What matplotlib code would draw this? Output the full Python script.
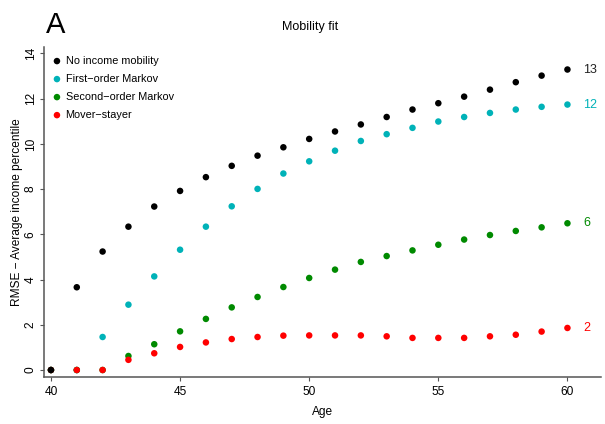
import numpy as np
import matplotlib.pyplot as plt

plt.rcParams['font.family'] = ['Liberation Sans', 'DejaVu Sans']

# RMSE by age for each mobility model
ages = np.arange(40, 61)
no_mobility = [0.00, 3.66, 5.24, 6.34, 7.23, 7.92, 8.53, 9.03, 9.48, 9.85,
               10.22, 10.55, 10.86, 11.19, 11.52, 11.80, 12.09, 12.40, 12.73,
               13.02, 13.29]
first_order = [0.00, 0.00, 1.46, 2.89, 4.14, 5.32, 6.34, 7.24, 8.01, 8.69,
               9.23, 9.70, 10.13, 10.43, 10.71, 10.99, 11.19, 11.37, 11.52,
               11.64, 11.74]
second_order = [0.00, 0.00, 0.00, 0.62, 1.14, 1.71, 2.26, 2.77, 3.23, 3.67,
                4.07, 4.44, 4.78, 5.04, 5.29, 5.54, 5.77, 5.97, 6.15, 6.31,
                6.49]
mover_stayer = [0.00, 0.00, 0.00, 0.45, 0.74, 1.02, 1.22, 1.37, 1.46, 1.52,
                1.53, 1.53, 1.53, 1.49, 1.42, 1.42, 1.42, 1.49, 1.56, 1.70,
                1.86]

names = ['No income mobility', 'First\u2212order Markov',
         'Second\u2212order Markov', 'Mover\u2212stayer']
colors = ['black', '#00B2B8', '#008A00', '#FF0000']
series = [no_mobility, first_order, second_order, mover_stayer]

fig = plt.figure(figsize=(6.05, 4.24), dpi=100)
ax = fig.add_axes([0.0727, 0.1108, 0.9207, 0.7791])

# draw order so that red sits over green/teal and black over everything at 40
handles = {}
for i in [1, 2, 3, 0]:
    handles[i] = ax.scatter(ages, series[i], s=22, color=colors[i],
                            edgecolors='none', zorder=3 + (i == 0))

# rounded last value written to the right of each series
for vals, c in zip(series, colors):
    ax.text(60.6, vals[-1], '%d' % round(vals[-1]),
            color=c if c != 'black' else '#222222',
            fontsize=9, va='center', ha='left')

ax.set_xlim(39.73, 61.3)
ax.set_ylim(-0.31, 14.3)
ax.set_xticks([40, 45, 50, 55, 60])
ax.set_yticks(range(0, 15, 2))
ax.set_yticklabels([str(v) for v in range(0, 15, 2)], rotation=90, va='center')

for side in ['top', 'right']:
    ax.spines[side].set_visible(False)
for side in ['left', 'bottom']:
    ax.spines[side].set_color('#555555')
    ax.spines[side].set_linewidth(1.1)
ax.tick_params(direction='out', length=3.2, width=0.8, color='#555555',
               labelsize=8.6, pad=3)
ax.tick_params(axis='y', pad=2)

ax.set_xlabel('Age', fontsize=8.6, labelpad=6)
ax.set_ylabel('RMSE \u2212 Average income percentile', fontsize=8.6,
              labelpad=1)

ax.legend([handles[i] for i in range(4)], names, loc='upper left',
          bbox_to_anchor=(-0.002, 0.995), frameon=False, fontsize=7.8,
          handletextpad=0.2, labelspacing=0.74, borderaxespad=0.3,
          scatterpoints=1, handlelength=1.2)

fig.text(0.513, 0.929, 'Mobility fit', fontsize=9, ha='center', va='baseline')
fig.text(0.076, 0.922, 'A', fontsize=21, ha='left', va='baseline')

fig.savefig('out.png', dpi=100)
